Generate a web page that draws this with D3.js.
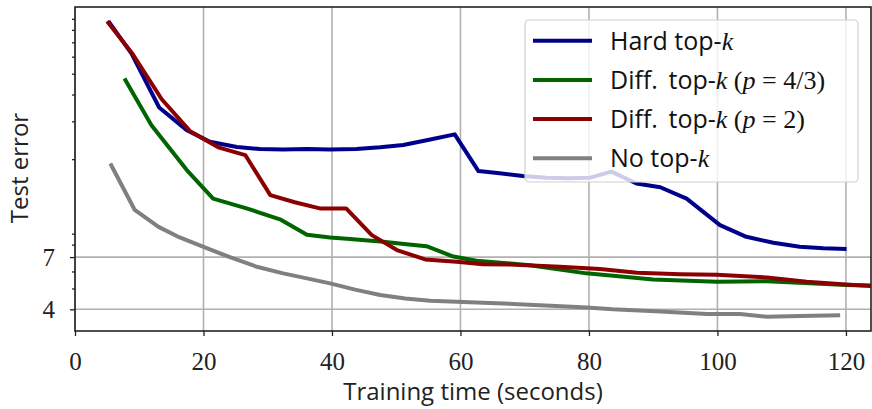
<!DOCTYPE html>
<html>
<head>
<meta charset="utf-8">
<script src="https://cdn.jsdelivr.net/npm/d3@7/dist/d3.min.js"></script>
<style>
  body { margin: 0; background: #fff; }
</style>
</head>
<body>
<div id="chart"></div>
<script>
// Podaci (procijenjeni s grafa)
const hardTime = [5.2, 8.8, 13.1, 17.4, 21.0, 25.2, 28.8, 32.4, 36.1, 39.7, 43.8, 47.5, 51.1, 55.3, 59.1,
                  62.8, 66.1, 69.7, 73.4, 77.0, 80.2, 83.5, 87.4, 91.1, 95.2, 100.4, 104.5, 108.7, 112.8, 116.5, 120.1];
const hardErr  = [87.9, 62.0, 34.8, 27.3, 24.1, 22.8, 22.3, 22.2, 22.3, 22.2, 22.3, 22.7, 23.3, 24.7, 26.1,
                  17.6, 17.2, 16.7, 16.4, 16.3, 16.4, 17.5, 15.4, 14.8, 13.1, 9.86, 8.70, 8.16, 7.82, 7.69, 7.63];

const diff43Time = [7.7, 11.9, 17.4, 21.5, 26.7, 31.9, 36.1, 39.7, 42.8, 48.0, 51.6, 54.7, 58.9, 62.5,
                    70.8, 79.6, 90.0, 99.9, 107.7, 120.1, 124.0];
const diff43Err  = [47.5, 28.8, 17.8, 13.1, 11.8, 10.5, 8.89, 8.63, 8.49, 8.25, 8.04, 7.87, 7.04, 6.73,
                    6.42, 5.88, 5.51, 5.37, 5.41, 5.19, 5.16];

const diff2Time = [5.0, 9.0, 13.5, 17.9, 22.3, 26.5, 30.4, 34.2, 38.1, 42.2, 46.2, 50.1, 54.5, 59.4,
                   63.5, 67.7, 75.5, 81.7, 87.5, 94.2, 99.9, 107.7, 113.9, 120.0, 124.0];
const diff2Err  = [87.7, 61.6, 38.0, 27.0, 22.7, 20.9, 13.6, 12.6, 11.8, 11.8, 8.86, 7.55, 6.83, 6.66,
                   6.49, 6.47, 6.31, 6.16, 5.92, 5.83, 5.79, 5.63, 5.37, 5.22, 5.13];

const noTopTime = [5.5, 9.3, 13.0, 16.3, 20.2, 24.1, 28.3, 32.4, 36.1, 39.7, 43.6, 47.5, 51.4, 55.3,
                   64.6, 73.2, 79.7, 83.7, 91.1, 98.4, 103.5, 107.7, 112.8, 119.1];
const noTopErr  = [19.1, 11.6, 9.68, 8.64, 7.77, 6.99, 6.31, 5.88, 5.57, 5.28, 4.94, 4.66, 4.49, 4.38,
                   4.28, 4.17, 4.08, 4.00, 3.91, 3.80, 3.80, 3.69, 3.72, 3.75];

const seriesNames  = ["Hard top-$k$", "Diff. top-$k$ $(p = 4/3)$", "Diff. top-$k$ $(p = 2)$", "No top-$k$"];
const seriesColors = ["#00008b", "#006400", "#8b0000", "#808080"];

const xTicks      = [0, 20, 40, 60, 80, 100, 120];
const yMajorTicks = [4, 7];
const yMinorTicks = [5, 6, 8, 9, 20, 30, 40, 50, 60, 70, 80, 90];

const series = [
    { time: hardTime,   err: hardErr },
    { time: diff43Time, err: diff43Err },
    { time: diff2Time,  err: diff2Err },
    { time: noTopTime,  err: noTopErr }
].map((s, i) => ({
    name: seriesNames[i],
    color: seriesColors[i],
    points: s.time.map((t, j) => ({ t: t, e: s.err[j] }))
}));

// Dimenzije
const W = 872, H = 409;
const margin = { top: 7, right: 1, bottom: 78, left: 75 };
const width  = W - margin.left - margin.right;
const height = H - margin.top - margin.bottom;

const serif = "'Liberation Serif', serif";
const sans  = "'Open Sans', 'DejaVu Sans', sans-serif";

const svg = d3.select("#chart")
    .append("svg")
    .attr("width", W)
    .attr("height", H);

const g = svg.append("g")
    .attr("transform", `translate(${margin.left},${margin.top})`);

// Skale
const x = d3.scaleLinear().domain([0, 123.9]).range([0, width]);
const y = d3.scaleLog().domain([3.17, 102.2]).range([height, 0]);

// Mreža
g.append("g").selectAll("line")
    .data(xTicks)
    .enter().append("line")
    .attr("x1", d => x(d)).attr("x2", d => x(d))
    .attr("y1", 0).attr("y2", height)
    .attr("stroke", "#b0b0b0")
    .attr("stroke-width", 1.6);

g.append("g").selectAll("line")
    .data(yMajorTicks)
    .enter().append("line")
    .attr("x1", 0).attr("x2", width)
    .attr("y1", d => y(d)).attr("y2", d => y(d))
    .attr("stroke", "#b0b0b0")
    .attr("stroke-width", 1.6);

// Linije
svg.append("defs").append("clipPath")
    .attr("id", "plot-clip")
    .append("rect")
    .attr("width", width)
    .attr("height", height);

const line = d3.line()
    .x(d => x(d.t))
    .y(d => y(d.e));

g.append("g")
    .attr("clip-path", "url(#plot-clip)")
    .selectAll("path")
    .data(series)
    .enter().append("path")
    .attr("d", d => line(d.points))
    .attr("fill", "none")
    .attr("stroke", d => d.color)
    .attr("stroke-width", 4)
    .attr("stroke-linejoin", "round")
    .attr("stroke-linecap", "butt");

// Osi
g.append("g")
    .attr("transform", `translate(0,${height})`)
    .call(d3.axisBottom(x).tickValues(xTicks).tickFormat(d3.format("d")).tickSize(5).tickPadding(16));

g.append("g")
    .call(d3.axisLeft(y).tickValues(yMajorTicks).tickFormat(d3.format("d")).tickSize(5).tickPadding(15));

g.append("g")
    .call(d3.axisLeft(y).tickValues(yMinorTicks).tickFormat("").tickSize(3));

g.selectAll(".domain").remove();
g.selectAll(".tick line").attr("stroke", "#222").attr("stroke-width", 1.3);
g.selectAll(".tick text")
    .attr("font-family", serif)
    .attr("font-size", 25)
    .attr("fill", "#222");

// Okvir
g.append("rect")
    .attr("width", width)
    .attr("height", height)
    .attr("fill", "none")
    .attr("stroke", "#222")
    .attr("stroke-width", 1.6);

// Naslovi osi
svg.append("text")
    .attr("x", 473)
    .attr("y", 400)
    .attr("text-anchor", "middle")
    .attr("font-family", sans)
    .attr("font-size", 24)
    .attr("fill", "#222")
    .text("Training time (seconds)");

svg.append("text")
    .attr("transform", "translate(28,168) rotate(-90)")
    .attr("text-anchor", "middle")
    .attr("font-family", sans)
    .attr("font-size", 24)
    .attr("fill", "#222")
    .text("Test error");

// Legenda
const legend = svg.append("g");

legend.append("rect")
    .attr("x", 525).attr("y", 20)
    .attr("width", 333).attr("height", 162)
    .attr("rx", 4)
    .attr("fill", "#fff")
    .attr("fill-opacity", 0.8)
    .attr("stroke", "#d0d0d0")
    .attr("stroke-width", 1.2);

const rows = legend.selectAll(".leg-row")
    .data(series)
    .enter().append("g")
    .attr("class", "leg-row")
    .attr("transform", (d, i) => `translate(533, ${40.7 + i * 39.2})`);

rows.append("line")
    .attr("x1", 0).attr("x2", 59)
    .attr("stroke", d => d.color)
    .attr("stroke-width", 4);

// tekst s matematičkim dijelovima ($...$)
rows.append("text")
    .attr("x", 77)
    .attr("dy", "0.36em")
    .attr("font-size", 25)
    .attr("fill", "#111")
    .style("white-space", "pre")
    .each(function(d) {
        const t = d3.select(this);
        d.name.split("$").forEach((part, k) => {
            if (k % 2 === 0) {
                // malo veći razmak nakon točke (kao u LaTeX-u)
                t.append("tspan").attr("font-family", sans).text(part.replace(". ", ".\u2009 "));
            } else {
                part.replace(/ = /g, "\u2005=\u2005").split(/([a-zA-Z])/).filter(s => s.length).forEach(s => {
                    const isVar = /^[a-zA-Z]$/.test(s);
                    t.append("tspan")
                        .attr("font-family", serif)
                        .attr("font-size", 26)
                        .attr("font-style", isVar ? "italic" : "normal")
                        .text(s);
                });
            }
        });
    });
</script>
</body>
</html>
